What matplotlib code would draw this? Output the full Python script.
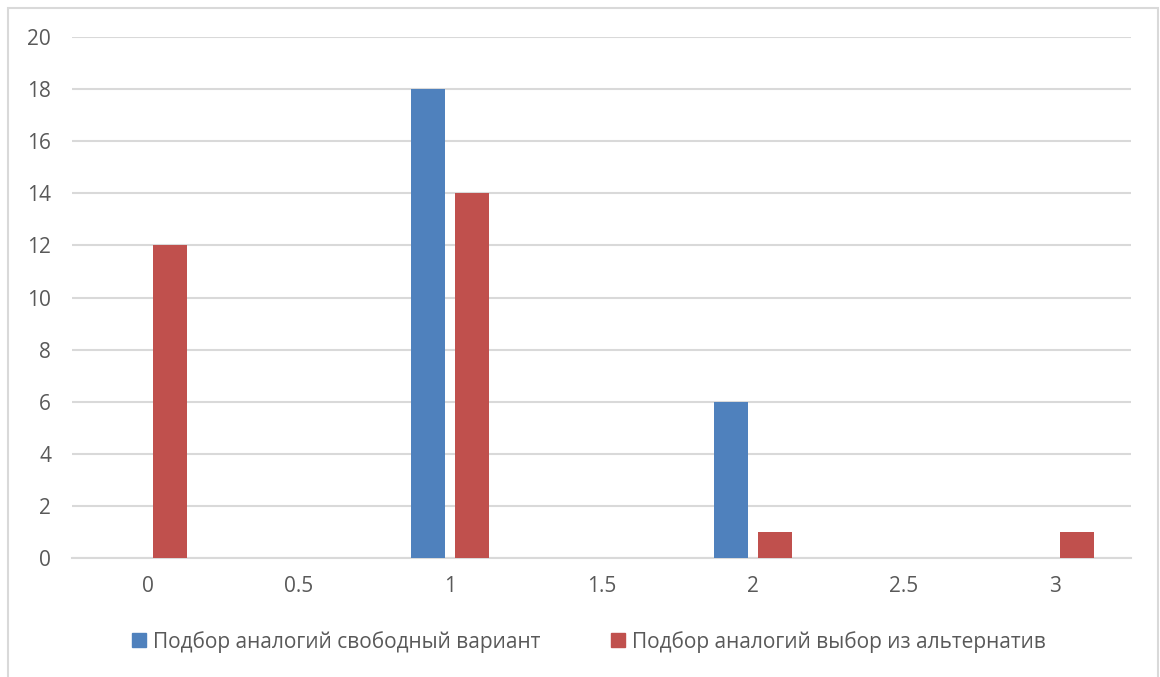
import matplotlib.pyplot as plt
import numpy as np
from matplotlib.patches import Rectangle

plt.rcParams['font.family'] = ['Open Sans', 'DejaVu Sans']

categories = ['0', '0.5', '1', '1.5', '2', '2.5', '3']
free_variant = [0, 0, 18, 0, 6, 0, 0]
from_alternatives = [12, 0, 14, 0, 1, 0, 1]
series_names = ['Подбор аналогий свободный вариант',
                'Подбор аналогий выбор из альтернатив']

blue = '#4F81BD'
red = '#C0504D'
grid_col = '#D9D9D9'
text_col = '#595959'

fig = plt.figure(figsize=(11.6, 6.77), dpi=100)
ax = fig.add_axes([0.0621, 0.1758, 0.9129, 0.7695])

x = np.arange(len(categories))
w = 0.225
ax.bar(x - 0.145, free_variant, w, color=blue, zorder=3)
ax.bar(x + 0.145, from_alternatives, w, color=red, zorder=3)

ax.set_xlim(-0.5, len(categories) - 0.5)
ax.set_ylim(0, 20)
ax.set_yticks(range(0, 21, 2))
ax.set_xticks(x)
ax.set_xticklabels(categories)
ax.yaxis.grid(True, color=grid_col, linewidth=1.5, zorder=0)
ax.tick_params(length=0, labelsize=15, colors=text_col)
ax.tick_params(axis='y', pad=15)
ax.tick_params(axis='x', pad=13)
for side in ['top', 'right', 'left']:
    ax.spines[side].set_visible(False)
ax.spines['bottom'].set_color(grid_col)
ax.spines['bottom'].set_linewidth(1.5)

handles = [Rectangle((0, 0), 1, 1, color=blue), Rectangle((0, 0), 1, 1, color=red)]
fig.legend(handles, series_names, loc='center', bbox_to_anchor=(0.508, 0.052),
           ncol=2, frameon=False, fontsize=15, labelcolor=text_col,
           handlelength=0.65, handleheight=0.65, handletextpad=0.35, columnspacing=3.4)

# outer chart frame
fig.add_artist(Rectangle((8 / 1160, -0.01), 1150 / 1160, 1 - 8 / 677 + 0.01,
                         transform=fig.transFigure, fill=False,
                         edgecolor=grid_col, linewidth=1.5))

fig.savefig('out.png', dpi=100, facecolor='white')
